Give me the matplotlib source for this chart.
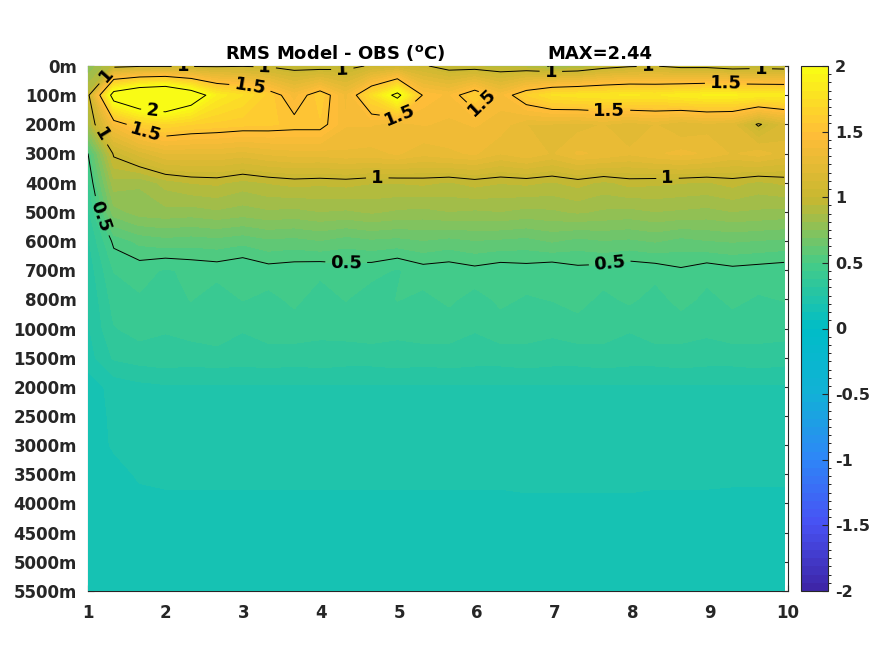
import numpy as np
import matplotlib
matplotlib.use("Agg")
import matplotlib.pyplot as plt
from matplotlib.colors import LinearSegmentedColormap, BoundaryNorm
from matplotlib.cm import ScalarMappable

plt.rcParams['font.family'] = 'DejaVu Sans'
plt.rcParams['font.weight'] = 'bold'
plt.rcParams['mathtext.default'] = 'bf'

depth_labels = ['0m','100m','200m','300m','400m','500m','600m','700m','800m','1000m',
                '1500m','2000m','2500m','3000m','3500m','4000m','4500m','5000m','5500m']
x_ticks = [1,2,3,4,5,6,7,8,9,10]
cbar_ticks = [-2,-1.5,-1,-0.5,0,0.5,1,1.5,2]
cbar_ticklabels = ['-2','-1.5','-1','-0.5','0','0.5','1','1.5','2']

r00 = [.75,.95,.98,.98,.98,.98,.99,.98,.93,.92,.95,1.02,1.05,1.02,.93,.92,.90,.88,.82,.84,.93,.98,1.00,.95,.95,.90,.92,.90]
r01 = [.95,2.15,2.36,2.44,2.20,1.85,1.75,1.60,1.40,1.60,1.35,1.72,2.08,1.48,1.42,1.62,1.40,1.62,1.75,1.78,1.80,1.82,1.80,1.85,1.88,1.88,1.85,1.85]
r02 = [.85,1.40,1.60,1.67,1.62,1.60,1.58,1.57,1.55,1.55,1.38,1.38,1.32,1.38,1.36,1.38,1.35,1.25,1.24,1.22,1.25,1.20,1.25,1.18,1.22,1.20,.98,1.14]
r03 = [.50,1.02,1.15,1.25,1.25,1.25,1.22,1.26,1.28,1.28,1.30,1.29,1.32,1.27,1.30,1.32,1.25,1.30,1.24,1.32,1.30,1.26,1.30,1.33,1.30,1.24,1.28,1.22]
r04 = [.42,.85,.82,.90,.94,.95,.91,.94,.96,.95,.96,.94,.94,.95,.93,.96,.94,.95,.93,.96,.92,.96,.95,.94,.93,.96,.92,.95]
r05 = [.35,.72,.78,.79,.78,.80,.78,.80,.79,.81,.80,.82,.80,.79,.81,.80,.81,.79,.80,.82,.80,.79,.81,.80,.79,.81,.80,.79]
r06 = [.30,.52,.58,.60,.59,.60,.58,.61,.60,.62,.59,.61,.60,.62,.60,.62,.61,.60,.63,.60,.62,.61,.63,.60,.62,.63,.62,.61]
r07 = [.27,.44,.46,.43,.45,.46,.44,.47,.46,.45,.47,.46,.43,.47,.46,.48,.46,.47,.45,.48,.47,.45,.46,.49,.46,.48,.47,.46]
r08 = [.25,.40,.43,.41,.44,.40,.44,.42,.45,.41,.44,.40,.44,.42,.45,.41,.45,.43,.44,.46,.42,.45,.41,.46,.42,.45,.43,.44]
r09 = [.24,.37,.40,.38,.40,.41,.38,.40,.41,.39,.40,.41,.39,.41,.40,.38,.41,.40,.39,.41,.40,.38,.41,.40,.39,.41,.40,.40]
r10 = [.22,.32,.34,.35,.34,.35,.34,.35,.34,.35,.34,.34,.35,.34,.35,.34,.34,.35,.34,.34,.35,.34,.34,.35,.34,.34,.35,.34]
r11 = [.15,.21,.23,.24,.24,.24,.24,.24,.24,.24,.24,.24,.24,.24,.24,.24,.24,.24,.24,.24,.24,.24,.24,.24,.24,.24,.24,.24]
r12 = [.15,.20,.22,.22,.22,.22,.23,.22,.22,.22,.23,.22,.22,.23,.22,.22,.22,.23,.22,.22,.22,.23,.22,.22,.22,.22,.23,.22]
r13 = [.15,.195,.21,.21,.21,.21,.21,.21,.21,.21,.21,.21,.21,.21,.21,.21,.21,.21,.21,.21,.21,.21,.21,.21,.21,.21,.21,.21]
r14 = [.14,.165,.195,.20,.20,.20,.20,.20,.20,.20,.20,.20,.20,.20,.20,.20,.20,.20,.20,.20,.20,.20,.20,.20,.20,.20,.20,.20]
r15 = [.14,.16,.17,.175,.175,.175,.175,.175,.175,.175,.175,.175,.175,.175,.175,.175,.175,.18,.18,.18,.18,.18,.175,.175,.175,.17,.17,.17]
r16 = [.14,.15,.15,.15,.15,.15,.15,.15,.15,.15,.15,.15,.15,.15,.15,.15,.15,.15,.15,.15,.15,.15,.15,.15,.15,.15,.15,.15]
r17 = [.14,.14,.14,.14,.14,.14,.14,.14,.14,.14,.14,.14,.14,.14,.14,.14,.14,.14,.14,.14,.14,.14,.14,.14,.14,.14,.14,.14]
r18 = [.14,.14,.14,.14,.14,.14,.14,.14,.14,.14,.14,.14,.14,.14,.14,.14,.14,.14,.14,.14,.14,.14,.14,.14,.14,.14,.14,.14]
Z = np.array([r00,r01,r02,r03,r04,r05,r06,r07,r08,r09,r10,r11,r12,r13,r14,r15,r16,r17,r18])

parula_anchor = [(.2422,.1504,.6603),(.2810,.3228,.9579),(.1786,.5289,.9682),(.0689,.6948,.8394),
                 (.0,.74,.78),(.27,.80,.53),(.78,.72,.19),(1.0,.74,.22),(.9769,.9839,.0805)]
cmap = LinearSegmentedColormap.from_list('parula_old', parula_anchor, N=64)
levels = np.linspace(-2, 2, 65)
norm = BoundaryNorm(levels, 64)

W, H = 875, 656
fig = plt.figure(figsize=(W/100, H/100), dpi=100, facecolor='white')
ax = fig.add_axes([88/W, 1-591/H, 700/W, 525/H])
x = np.linspace(1, 9.95, Z.shape[1])
y = np.arange(Z.shape[0])
ax.set_xlim(1, 10)
ax.set_ylim(18, 0)
ax.set_axisbelow(True)
for s in ax.spines.values():
    s.set_zorder(0.5)
    s.set_color('#262626')
cf = ax.contourf(x, y, Z, levels=levels, cmap=cmap, norm=norm, extend='both', zorder=1)
cf.set_edgecolor('face')
cf.set_linewidth(0.4)
labels_05 = [(1.12,5.2),(4.32,6.75),(7.7,6.6)]
labels_10 = [(1.18,.17),(2.22,.1),(3.27,.28),(4.27,.3),(6.95,.25),(8.2,.13),(9.65,.12),(1.12,2.45),
             (4.72,3.72),(8.45,3.68)]
labels_15 = [(3.07,.9),(1.75,2.2),(4.95,1.52),(6.06,1.25),(7.7,1.32),(9.2,.72)]
labels_20 = [(1.83,1.45)]
for lev, pos in [(0.5,labels_05),(1,labels_10),(1.5,labels_15),(2,labels_20)]:
    cs = ax.contour(x, y, Z, levels=[lev], colors='k', linewidths=0.7, zorder=2)
    ax.clabel(cs, inline=True, fontsize=13, manual=pos, fmt='%g', colors='k', inline_spacing=5)

ax.set_xticks(x_ticks)
ax.set_yticks(y)
ax.set_yticklabels(depth_labels)
ax.tick_params(direction='in', length=4, width=0.8, top=True, right=True, labelsize=12,
               colors='#262626')
ax.tick_params(axis='y', pad=8)
ax.tick_params(axis='x', pad=9)

cax = fig.add_axes([801/W, 1-591/H, 27/W, 525/H])
sm = ScalarMappable(norm=norm, cmap=cmap)
cb = fig.colorbar(sm, cax=cax, ticks=cbar_ticks, spacing='proportional')
cb.ax.set_yticklabels(cbar_ticklabels)
cb.ax.tick_params(direction='in', length=4, width=0.8, labelsize=11.5, colors='#262626', pad=5)
cb.outline.set_edgecolor('#262626')
cb.outline.set_linewidth(0.8)

fig.text(335/W, 1-59/H, r'RMS Model - OBS ($\mathbf{^{o}}$C)', ha='center', va='baseline', fontsize=13, color='k')
fig.text(547/W, 1-59/H, 'MAX=2.44', ha='left', va='baseline', fontsize=13, color='k')

fig.savefig('out.png', dpi=100)
